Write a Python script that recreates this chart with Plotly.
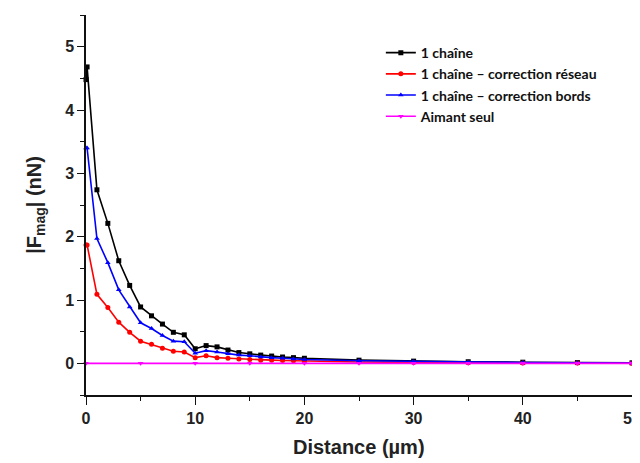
import plotly.graph_objects as go

x_main = [0, 0.1, 1, 2, 3, 4, 5, 6, 7, 8, 9, 10, 11, 12, 13, 14, 15, 16, 17, 18, 19, 20, 25, 30, 35, 40, 45, 50]
chaine = [4.48, 4.68, 2.74, 2.21, 1.62, 1.23, 0.89, 0.75, 0.62, 0.49, 0.45, 0.23, 0.28, 0.26, 0.21, 0.17, 0.15, 0.13, 0.115, 0.10, 0.09, 0.08, 0.05, 0.035, 0.025, 0.018, 0.012, 0.008]
reseau = [1.87, 1.87, 1.09, 0.88, 0.65, 0.49, 0.35, 0.30, 0.24, 0.19, 0.18, 0.09, 0.12, 0.09, 0.08, 0.07, 0.06, 0.05, 0.05, 0.045, 0.04, 0.035, 0.02, 0.012, 0.008, 0.006, 0.004, 0.003]
bords = [3.40, 3.40, 1.97, 1.59, 1.16, 0.89, 0.64, 0.55, 0.44, 0.35, 0.34, 0.16, 0.20, 0.18, 0.15, 0.13, 0.12, 0.10, 0.09, 0.08, 0.07, 0.06, 0.04, 0.028, 0.02, 0.014, 0.01, 0.006]
x_aimant = [0, 5, 10, 15, 20, 25, 30, 35, 40, 45, 50]
aimant = [0, 0, 0, 0, 0, 0, 0, 0, 0, 0, 0]

names = ["1 chaîne", "1 chaîne – correction réseau", "1 chaîne – correction bords", "Aimant seul"]
colors = ["#000000", "#ff0000", "#0000ff", "#ff00ff"]
symbols = ["square", "circle", "triangle-up", "triangle-down"]

fig = go.Figure()
series = [(x_main, chaine), (x_main, reseau), (x_main, bords), (x_aimant, aimant)]
for (xs, ys), n, c, s in zip(series, names, colors, symbols):
    fig.add_trace(go.Scatter(
        x=xs, y=ys, mode="lines+markers", name=n,
        line=dict(color=c, width=1.6),
        marker=dict(symbol=s, size=5, color=c),
        cliponaxis=False,
    ))

tick_font = dict(family="Arial", size=16, color="#222", weight="bold")
title_font = dict(family="Arial", size=20, color="#222", weight="bold")
fig.update_layout(
    width=632, height=455,
    margin=dict(l=78, r=8, t=7, b=68),
    paper_bgcolor="white", plot_bgcolor="white",
    showlegend=True,
    legend=dict(x=0.54, y=0.942, xanchor="left", yanchor="top",
                font=dict(family="Lato", size=14, color="#111", weight="bold"),
                bgcolor="rgba(0,0,0,0)", tracegroupgap=0, itemwidth=30),
    xaxis=dict(range=[0, 50], tickvals=[0, 10, 20, 30, 40, 50], ticks="outside",
               ticklen=8, tickwidth=1.3, tickcolor="#111", ticklabeloverflow="allow",
               automargin=False,
               showline=True, linecolor="#111", linewidth=1.5, showgrid=False, zeroline=False,
               tickfont=tick_font,
               minor=dict(ticks="outside", ticklen=4, tickcolor="#111", dtick=5, tick0=0)),
    yaxis=dict(range=[-0.5, 5.5], tickvals=[0, 1, 2, 3, 4, 5], ticks="outside",
               ticklen=7, tickwidth=1.3, tickcolor="#111", automargin=False,
               showline=True, mirror=True, linecolor="#111", linewidth=1.5, showgrid=False, zeroline=False,
               tickfont=tick_font,
               title=dict(text="|F<sub>mag</sub>| (nN)", font=title_font, standoff=18),
               minor=dict(ticks="outside", ticklen=4, tickcolor="#111", dtick=0.5, tick0=0)),
    annotations=[dict(text="Distance (µm)", x=0.5, y=-0.137, xref="paper", yref="paper",
                      xanchor="center", yanchor="middle", showarrow=False, font=title_font)],
)
fig.write_html("out.html")
